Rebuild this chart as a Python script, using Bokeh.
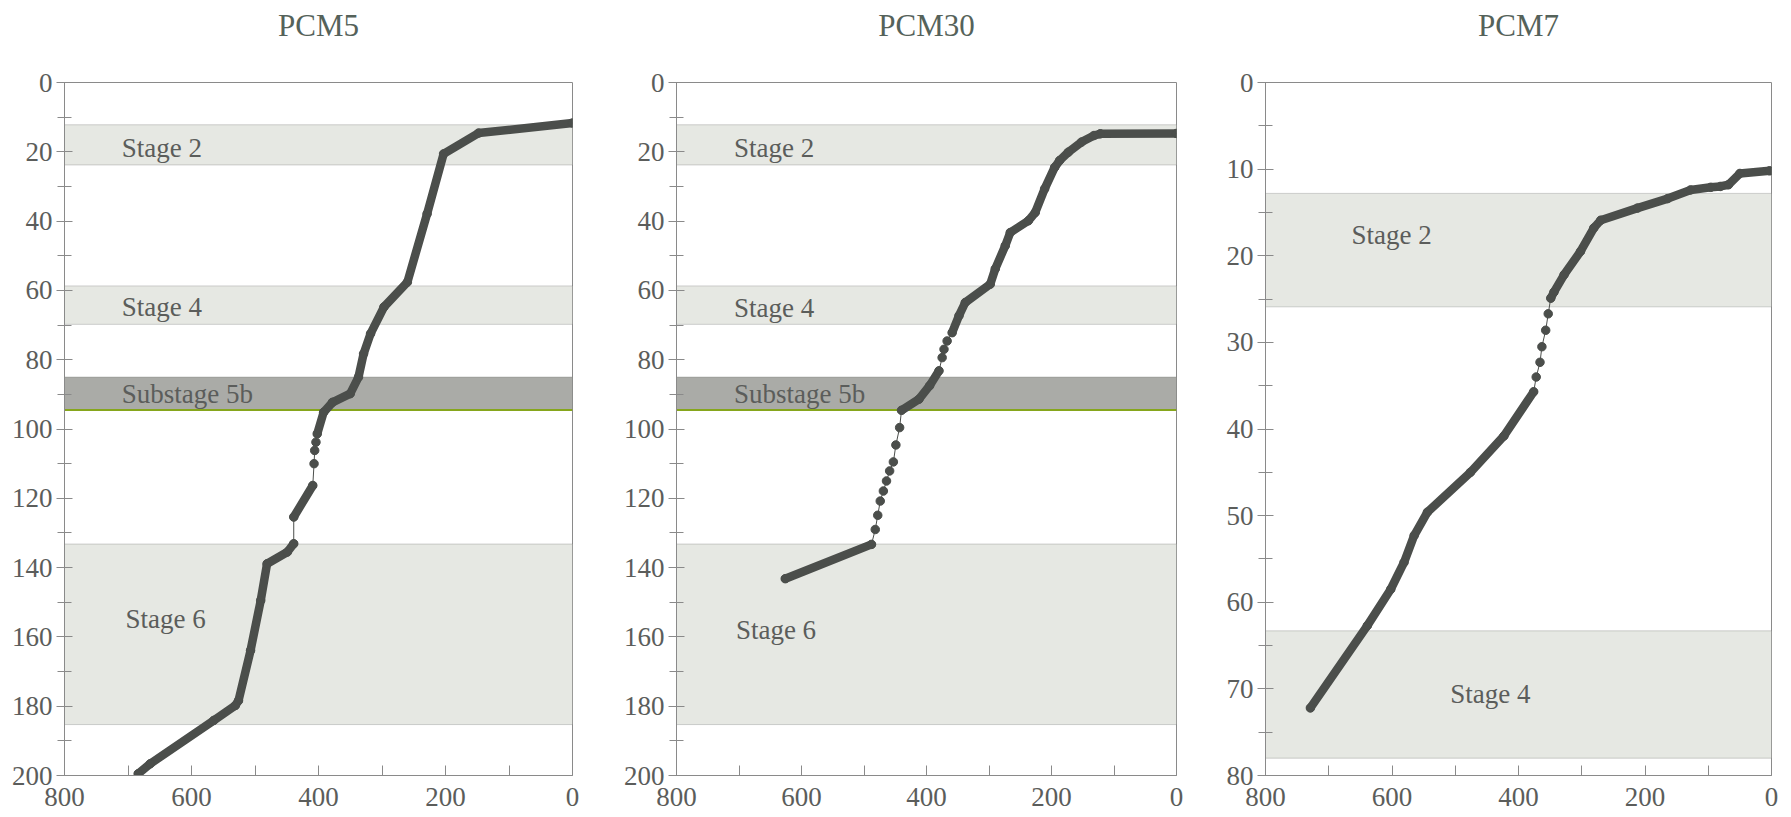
import math
from bokeh.plotting import figure
from bokeh.layouts import row
from bokeh.models import Range1d, FixedTicker, BoxAnnotation, Label, Span, LinearAxis
from bokeh.embed import file_html
from bokeh.resources import INLINE

nan = float("nan")

# ---------------- data ----------------
titles = ["PCM5", "PCM30", "PCM7"]

x_major = [0, 200, 400, 600, 800]
x_minor = [100, 300, 500, 700]
y_major_200 = [0, 20, 40, 60, 80, 100, 120, 140, 160, 180, 200]
y_minor_200 = [10, 30, 50, 70, 90, 110, 130, 150, 170, 190]
y_major_80 = [0, 10, 20, 30, 40, 50, 60, 70, 80]
y_minor_80 = [5, 15, 25, 35, 45, 55, 65, 75]

# depth (x) / age (y); nan separates densely sampled runs (thick) from sparse dots
pcm5_depth = [0, 148, 203, 229, 260, 297, 318, 329, 337, 350, 378, 392, 402, nan,
              404, nan, 406, nan, 407, nan,
              409, 439, nan,
              439, 449, 481, 491, 507, 526, 531, 565, 665, 684]
pcm5_age = [11.7, 14.6, 20.6, 37.9, 57.6, 64.8, 72.5, 78.3, 85.0, 89.8, 92.3, 95.2, 101.4, nan,
            103.8, nan, 106.2, nan, 110.0, nan,
            116.3, 125.4, nan,
            133.1, 135.5, 138.9, 149.5, 163.9, 178.4, 179.8, 184.1, 196.6, 199.5]

pcm30_depth = [0, 122, 132, 152, 173, 187, 195, 211, 226, 237, 266, 274, 290, 298, 338, 348, 359, nan,
               367, nan, 372, nan, 375, nan,
               380, 395, 412, 440, nan,
               443, nan, 449, nan, 453, nan, 459, nan, 464, nan, 469, nan, 474, nan, 478, nan, 482, nan,
               488, 626]
pcm30_age = [14.7, 14.8, 15.3, 17.2, 20.1, 22.5, 24.5, 30.7, 37.5, 39.9, 43.3, 47.1, 53.8, 58.2, 63.5, 67.3, 72.2, nan,
             74.6, nan, 77.0, nan, 79.4, nan,
             83.2, 87.5, 91.4, 94.6, nan,
             99.6, nan, 104.6, nan, 109.5, nan, 112.1, nan, 115.0, nan, 117.9, nan, 120.8, nan, 124.9, nan, 129.0, nan,
             133.3, 143.2]

pcm7_depth = [3, 50, 68, 81, 96, 128, 164, 212, 270, 281, 302, 328, 344, 349, nan,
              353, nan, 357, nan, 363, nan, 366, nan, 372, nan,
              376, 423, 476, 544, 565, 581, 602, 639, 729]
pcm7_age = [10.2, 10.5, 11.8, 12.0, 12.1, 12.4, 13.4, 14.5, 15.9, 16.8, 19.5, 22.2, 24.2, 24.9, nan,
            26.7, nan, 28.6, nan, 30.5, nan, 32.3, nan, 34.0, nan,
            35.7, 40.8, 45.0, 49.6, 52.3, 55.4, 58.5, 62.7, 72.2]

# isotope stage bands: (name, younger, older, shade)
bands_long = [("Stage 2", 12.2, 23.8, "light"), ("Stage 4", 58.7, 69.8, "light"),
              ("Substage 5b", 85.0, 94.5, "dark"), ("Stage 6", 133.2, 185.3, "light")]
bands_pcm7 = [("Stage 2", 12.8, 25.9, "light"), ("Stage 4", 63.3, 78.0, "light")]

# label anchor (depth, age)
labels_pcm5 = [("Stage 2", 710, 19.0), ("Stage 4", 710, 64.9), ("Substage 5b", 710, 89.8), ("Stage 6", 704, 154.7)]
labels_pcm30 = [("Stage 2", 708, 18.8), ("Stage 4", 708, 65.0), ("Substage 5b", 708, 89.9), ("Stage 6", 705, 158.0)]
labels_pcm7 = [("Stage 2", 664, 17.6), ("Stage 4", 508, 70.6)]

# ---------------- style ----------------
FONT = "Liberation Serif"
AXIS_C = "#8a8a8a"
TEXT_C = "#5b5d5b"
TITLE_C = "#55625a"
CURVE_C = "#4b4e4b"
FILL = {"light": "#e6e8e3", "dark": "#aaaba7"}


def make_panel(title, depth, age, bands, labels, ymax, ymaj, ymin,
               width, left, right, top, bottom, title_gap):
    p = figure(width=width, height=817, output_backend="svg", toolbar_location=None,
               x_range=Range1d(800, 0), y_range=Range1d(ymax, 0),
               min_border_left=left, min_border_right=right,
               min_border_top=top, min_border_bottom=bottom)
    p.background_fill_color = "white"
    p.border_fill_color = "white"
    p.outline_line_color = AXIS_C
    p.outline_line_width = 1
    p.grid.visible = False

    bx = p.below[0]
    ly = p.left[0]
    for ax in (bx, ly):
        ax.axis_line_color = AXIS_C
        ax.major_tick_line_color = AXIS_C
        ax.minor_tick_line_color = AXIS_C
        ax.major_label_text_font = FONT
        ax.major_label_text_font_size = "27px"
        ax.major_label_text_color = TEXT_C

    bx.ticker = FixedTicker(ticks=x_major, minor_ticks=x_minor)
    bx.major_tick_in = 10
    bx.major_tick_out = 0
    bx.minor_tick_in = 10
    bx.minor_tick_out = 0
    bx.major_label_standoff = 12

    ly.ticker = FixedTicker(ticks=ymaj, minor_ticks=ymin)
    ly.major_tick_in = 8
    ly.major_tick_out = 8
    ly.minor_tick_in = 7
    ly.minor_tick_out = 7
    ly.major_label_standoff = 4

    # panel title drawn as the label of a bare axis above the frame
    tax = LinearAxis(axis_label=title, ticker=FixedTicker(ticks=[]),
                     axis_line_color=None, major_tick_line_color=None,
                     minor_tick_line_color=None, major_tick_out=0, minor_tick_out=0,
                     major_label_standoff=0, axis_label_standoff=title_gap,
                     axis_label_text_font=FONT, axis_label_text_font_size="31px",
                     axis_label_text_font_style="normal", axis_label_text_color=TITLE_C)
    p.add_layout(tax, "above")

    for name, y0, y1, shade in bands:
        p.add_layout(BoxAnnotation(bottom=y0, top=y1, fill_color=FILL[shade], fill_alpha=1.0,
                                   line_color="#6e716c", line_width=1, level="underlay"))
        if shade == "dark":
            p.add_layout(Span(location=y1, dimension="width", line_color="#86a61c",
                              line_width=2, level="underlay"))

    for text, lx, lyv in labels:
        p.add_layout(Label(x=lx, y=lyv, text=text, text_font=FONT, text_font_size="27px",
                           text_color=TEXT_C, text_align="left", text_baseline="middle"))

    xs = [d for d in depth if not math.isnan(d)]
    ys = [a for a in age if not math.isnan(a)]
    p.line(xs, ys, line_color=CURVE_C, line_width=1)
    p.line(depth, age, line_color=CURVE_C, line_width=8.5, line_cap="round", line_join="round")
    p.scatter(xs, ys, size=8.5, fill_color=CURVE_C, line_color=CURVE_C)
    return p


p1 = make_panel(titles[0], pcm5_depth, pcm5_age, bands_long, labels_pcm5, 200,
                y_major_200, y_minor_200, 620, 64, 48, 82, 42, 40)
p2 = make_panel(titles[1], pcm30_depth, pcm30_age, bands_long, labels_pcm30, 200,
                y_major_200, y_minor_200, 596, 52, 40, 82, 42, 40)
p3 = make_panel(titles[2], pcm7_depth, pcm7_age, bands_pcm7, labels_pcm7, 80,
                y_major_80, y_minor_80, 575, 49, 20, 82, 42, 40)

layout = row(p1, p2, p3, spacing=0)
open("out.html", "w").write(file_html(layout, INLINE))
